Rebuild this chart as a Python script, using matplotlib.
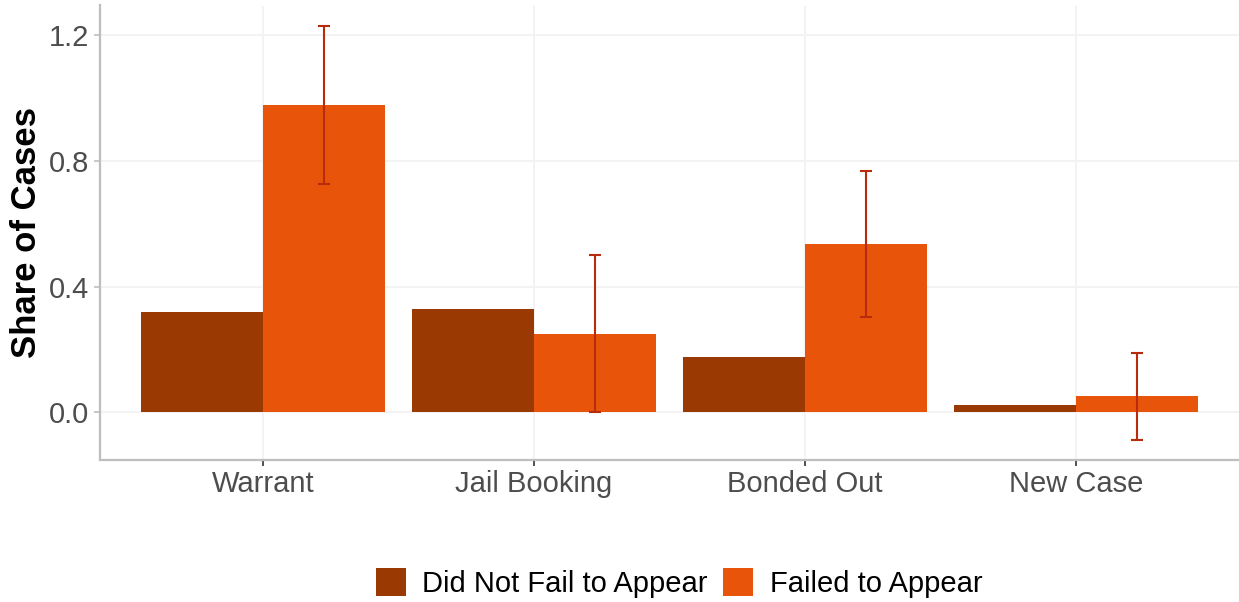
import numpy as np
import matplotlib
matplotlib.use("Agg")
import matplotlib.pyplot as plt

categories = ["Warrant", "Jail Booking", "Bonded Out", "New Case"]
did_not_fail = [0.320, 0.329, 0.176, 0.025]
failed = [0.977, 0.250, 0.535, 0.051]
failed_err = [0.250, 0.249, 0.233, 0.137]

series_labels = ["Did Not Fail to Appear", "Failed to Appear"]
colors = ["#9B3903", "#E85409"]
err_color = "#B82B0C"

plt.rcParams["font.family"] = ["Liberation Sans", "DejaVu Sans"]

fig = plt.figure(figsize=(12.39, 6.02), dpi=100)
ax = fig.add_axes([100 / 1239, 1 - 460 / 602, 1 - 100 / 1239, (460 - 5.5) / 602])

x = np.arange(len(categories))
w = 0.45
ax.bar(x - w / 2, did_not_fail, width=w, color=colors[0], label=series_labels[0], zorder=2)
ax.bar(x + w / 2, failed, width=w, color=colors[1], label=series_labels[1], zorder=2)
ax.errorbar(x + w / 2, failed, yerr=failed_err, fmt="none", ecolor=err_color,
            elinewidth=1.5, capsize=4.5, capthick=1.5, zorder=3)

ax.set_xlim(-0.6, len(categories) - 1 + 0.6)
ax.set_ylim(-0.151, 1.293)
ax.set_yticks([0.0, 0.4, 0.8, 1.2])
ax.set_yticklabels(["0.0", "0.4", "0.8", "1.2"])
ax.set_xticks(x)
ax.set_xticklabels(categories)

ax.grid(True, color="#F3F3F3", linewidth=1.4, zorder=0)
ax.set_axisbelow(True)
for side in ["top", "right"]:
    ax.spines[side].set_visible(False)
for side in ["left", "bottom"]:
    ax.spines[side].set_color("#BEBEBE")
    ax.spines[side].set_linewidth(1.6)

ax.tick_params(axis="y", colors="#BEBEBE", length=4, width=1.2, labelsize=21,
               labelcolor="#4D4D4D", pad=4)
ax.tick_params(axis="x", colors="#333333", length=4, width=1.2, labelsize=21,
               labelcolor="#4D4D4D", pad=3)

ax.set_ylabel("Share of Cases", fontsize=25, fontweight="bold", color="black", labelpad=4)

leg = fig.legend(loc="center", bbox_to_anchor=(0.548, 1 - 583 / 602), ncol=2, frameon=False,
                 fontsize=21, handlelength=1.03, handleheight=1.1, handletextpad=0.55,
                 columnspacing=0.55)

fig.savefig("out.png", dpi=100)
